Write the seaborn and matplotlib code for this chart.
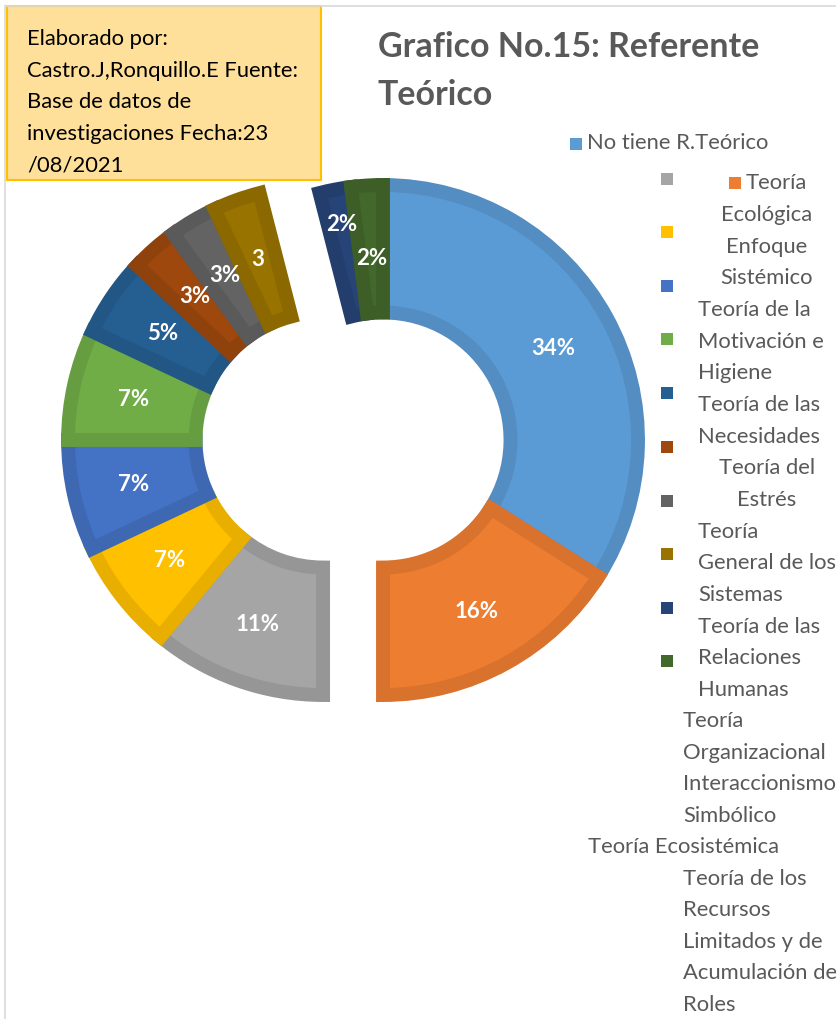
import numpy as np
import matplotlib
matplotlib.use("Agg")
import matplotlib.pyplot as plt
from matplotlib.patches import Rectangle
import matplotlib.colors as mcolors
import seaborn as sns

# data
categorias = ['No tiene R.Teórico', 'Teoría Ecológica', 'Enfoque Sistémico',
              'Teoría de la Motivación e Higiene', 'Teoría de las Necesidades',
              'Teoría del Estrés', 'Teoría General de los Sistemas',
              'Teoría de las Relaciones Humanas', 'Teoría Organizacional',
              'Interaccionismo Simbólico', 'Teoría Ecosistémica',
              'Teoría de los Recursos Limitados y de Acumulación de Roles']
porcentajes = [34, 16, 11, 7, 7, 7, 5, 3, 3, 3, 2, 2]
etiquetas = ['34%', '16%', '11%', '7%', '7%', '7%', '5%', '3%', '3%', '3', '2%', '2%']
colores = ['#5B9BD5', '#ED7D31', '#A5A5A5', '#FFC000', '#4472C4', '#70AD47',
           '#255E91', '#9E480E', '#636363', '#997300', '#264478', '#43682B']

titulo = 'Grafico No.15: Referente\nTeórico'
nota = ['Elaborado por:', 'Castro.J,Ronquillo.E Fuente:', 'Base de datos de',
        'investigaciones Fecha:23', '/08/2021']

sns.set_theme(style="white")
plt.rcParams['font.family'] = ['Lato', 'DejaVu Sans']

W, H = 837, 1019
fig = plt.figure(figsize=(W / 100, H / 100), dpi=100)


def fx(x):
    return x / W


def fy(y):
    return 1 - y / H


# chart area border
fig.add_artist(plt.Line2D([fx(5), fx(837)], [fy(6), fy(6)], color='#D9D9D9', lw=1.2))
fig.add_artist(plt.Line2D([fx(5), fx(5)], [fy(6), fy(1019)], color='#D9D9D9', lw=1.2))

# donut
cx, cy, R = 383, 440, 255
k = 1.5
ax = fig.add_axes([fx(cx - k * R), fy(cy + k * R), 2 * k * R / W, 2 * k * R / H])
wedges, _ = ax.pie(porcentajes, colors=colores, startangle=90, counterclock=False,
                   radius=1, wedgeprops=dict(width=0.5, linewidth=10, joinstyle='miter'))
ax.set_xlim(-k, k)
ax.set_ylim(-k, k)
ax.axis('off')

# the left block of slices sits apart from the rest
desplazados = range(2, 10)
for i in desplazados:
    x0, y0 = wedges[i].center
    wedges[i].set_center((x0 - 0.235, y0))

# label radius; the two thin 2% slices get staggered labels
radios = [0.76] * 10 + [0.87, 0.72]
for w, c, lab, r in zip(wedges, colores, etiquetas, radios):
    w.set_edgecolor(np.array(mcolors.to_rgb(c)) * 0.91)
    w.set_clip_path(w)
    ang = np.deg2rad((w.theta1 + w.theta2) / 2)
    ax.text(w.center[0] + r * np.cos(ang), w.center[1] + r * np.sin(ang), lab,
            ha='center', va='center_baseline', color='white', fontsize=16,
            fontweight='bold')

# title
fig.text(fx(378), fy(71), titulo, ha='left', va='center', fontsize=24.5,
         fontweight='bold', color='#595959', linespacing=1.65)

# note box
fig.add_artist(Rectangle((fx(7), fy(180)), fx(314), 174 / H, transform=fig.transFigure,
                         facecolor='#FFE09B', edgecolor='#FFC000', lw=1.5))
for i, line in enumerate(nota):
    fig.text(fx(27), fy(39 + i * 31.6), line, ha='left', va='center',
             fontsize=15.8, color='black')

# legend (Excel-style wrapped)
txt = '#595959'
cuadros = [(570, 144), (661, 179), (729, 183), (661, 232), (661, 286), (661, 339),
           (661, 393), (661, 447), (661, 501), (661, 554), (661, 608), (661, 661)]
orden_cuadros = [0, 2, 1, 3, 4, 5, 6, 7, 8, 9, 10, 11]
for (x, y), idx in zip(cuadros, orden_cuadros):
    fig.add_artist(Rectangle((fx(x), fy(y + 6)), 12 / W, 12 / H, transform=fig.transFigure,
                             facecolor=colores[idx], edgecolor='none'))

lineas = [('No tiene R.Teórico', 587, 143, 'left'),
          ('Teoría', 746, 183, 'left'),
          ('Ecológica', 767, 215, 'center'),
          ('Enfoque', 767, 247, 'center'),
          ('Sistémico', 767, 278, 'center'),
          ('Teoría de la', 698, 310, 'left'),
          ('Motivación e', 698, 342, 'left'),
          ('Higiene', 698, 373, 'left'),
          ('Teoría de las', 698, 405, 'left'),
          ('Necesidades', 698, 437, 'left'),
          ('Teoría del', 767, 468, 'center'),
          ('Estrés', 767, 500, 'center'),
          ('Teoría', 698, 532, 'left'),
          ('General de los', 698, 563, 'left'),
          ('Sistemas', 698, 595, 'left'),
          ('Teoría de las', 698, 627, 'left'),
          ('Relaciones', 698, 658, 'left'),
          ('Humanas', 698, 690, 'left'),
          ('Teoría', 683, 721, 'left'),
          ('Organizacional', 683, 753, 'left'),
          ('Interaccionismo', 683, 784, 'left'),
          ('Simbólico', 683, 816, 'left'),
          ('Teoría Ecosistémica', 588, 847, 'left'),
          ('Teoría de los', 683, 879, 'left'),
          ('Recursos', 683, 910, 'left'),
          ('Limitados y de', 683, 942, 'left'),
          ('Acumulación de', 683, 973, 'left'),
          ('Roles', 683, 1005, 'left')]
for s, x, y, ha in lineas:
    fig.text(fx(x), fy(y), s, ha=ha, va='center', fontsize=15.8, color=txt)

fig.savefig('out.png', dpi=100)
